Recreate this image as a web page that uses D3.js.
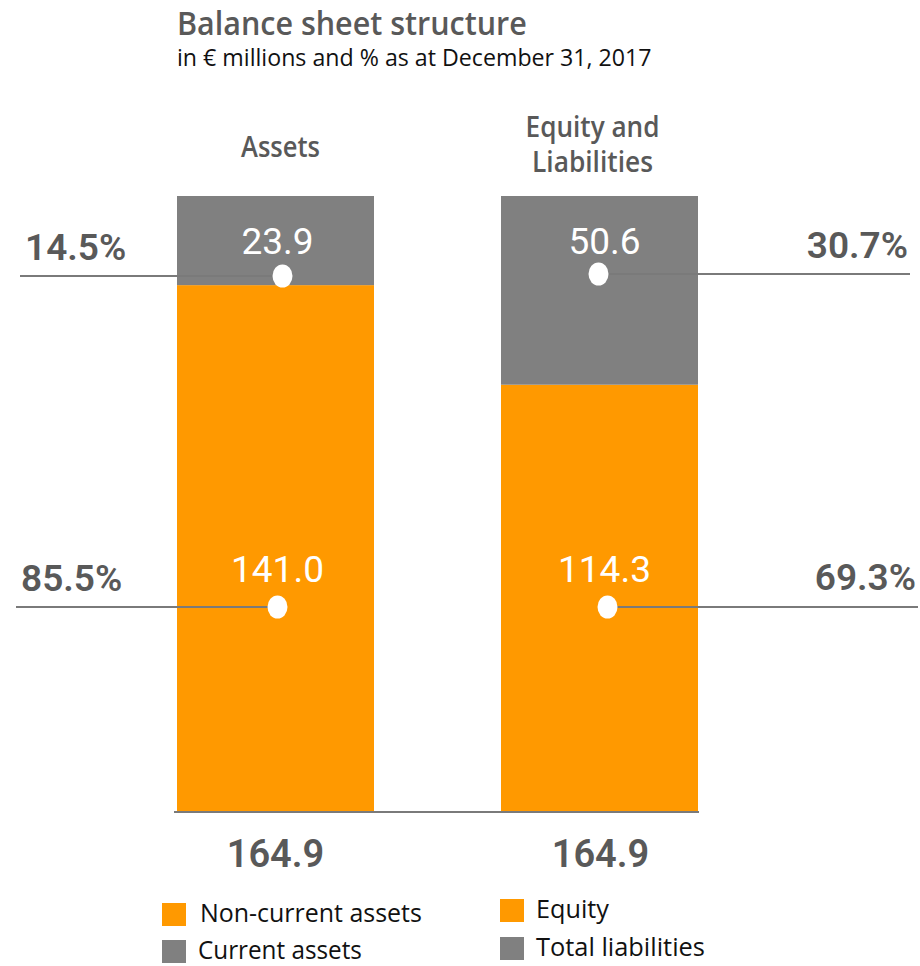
<!DOCTYPE html>
<html>
<head>
<meta charset="utf-8">
<script src="https://cdn.jsdelivr.net/npm/d3@7"></script>
<style>
  html, body { margin: 0; padding: 0; background: #fff; }
  .cond { font-family: "Open Sans", "Noto Sans", sans-serif; }
  .num { font-family: Roboto, "Liberation Sans", sans-serif; }
</style>
</head>
<body>
<svg id="chart" width="920" height="966"></svg>
<script>
// Balance sheet as at December 31, 2017 (in € millions)
const columns = ["Assets", "Equity and Liabilities"];
const columnTitleLines = [["Assets"], ["Equity and", "Liabilities"]];
const lowerValues = [141.0, 114.3];   // Non-current assets / Equity
const upperValues = [23.9, 50.6];     // Current assets / Total liabilities
const lowerShares = ["85.5%", "69.3%"];
const upperShares = ["14.5%", "30.7%"];
const totals = [164.9, 164.9];
const legendLeft = ["Non-current assets", "Current assets"];
const legendRight = ["Equity", "Total liabilities"];

const ORANGE = "#ff9900";
const GREY = "#808080";
const TEXT = "#595959";
const LINE = "#7a7a7a";

const svg = d3.select("#chart");

const x = d3.scaleBand().domain(columns).range([177, 698]).paddingInner(0.392).paddingOuter(0);
const y = d3.scaleLinear().domain([0, d3.max(totals)]).range([811, 196]);

// Condensed text: draw at full height, then squeeze horizontally to the wanted width
function condText(px, py, str, size, width, opts = {}) {
  const t = svg.append("text").attr("class", "cond")
    .attr("x", 0).attr("y", 0)
    .attr("font-size", size)
    .attr("font-weight", opts.weight || "normal")
    .attr("fill", opts.fill || "#111")
    .attr("text-anchor", opts.anchor || "start")
    .text(str);
  const w = t.node().getComputedTextLength();
  const sx = w > 0 ? width / w : 1;
  t.attr("transform", `translate(${px},${py}) scale(${sx.toFixed(4)},1)`);
  return t;
}

// Title
condText(177, 35, "Balance sheet structure", 33, 350, { weight: 600, fill: TEXT });
condText(177, 66, "in € millions and % as at December 31, 2017", 23, 475, { fill: "#111" });

// Column headings
const headingWidths = [[79], [134, 121]];
columns.forEach((c, i) => {
  const lines = columnTitleLines[i];
  const cx = x(c) + x.bandwidth() / 2 + (i === 0 ? 5 : -7);
  const firstY = lines.length === 1 ? 157 : 137;
  lines.forEach((ln, j) => {
    condText(cx, firstY + j * 35, ln, 28, headingWidths[i][j], { weight: 600, fill: TEXT, anchor: "middle" });
  });
});

// Stacked bars
const stackData = columns.map((c, i) => ({ col: c, lower: lowerValues[i], upper: upperValues[i] }));
const stack = d3.stack().keys(["lower", "upper"])(stackData);
const colors = { lower: ORANGE, upper: GREY };

svg.append("g").selectAll("g").data(stack).join("g")
  .attr("fill", d => colors[d.key])
  .selectAll("rect").data(d => d).join("rect")
  .attr("x", d => x(d.data.col))
  .attr("width", x.bandwidth())
  .attr("y", d => y(d[1]))
  .attr("height", d => y(d[0]) - y(d[1]));

// Baseline
svg.append("line").attr("x1", 174).attr("x2", 699).attr("y1", y(0) + 1).attr("y2", y(0) + 1)
  .attr("stroke", LINE).attr("stroke-width", 2);

// Leader lines, dots and labels
const leaderRows = [
  { shares: upperShares, values: upperValues, lineY: [276, 274], valueY: 254, shareY: [260, 258], dotDx: [7, -1] },
  { shares: lowerShares, values: lowerValues, lineY: [607, 607], valueY: 582, shareY: [591, 590], dotDx: [2, 8] }
];
const shareX = [[22, 18], [908, 916]];

leaderRows.forEach((row, r) => {
  columns.forEach((c, i) => {
    const cx = x(c) + x.bandwidth() / 2;
    const dotX = cx + row.dotDx[i];
    const ly = row.lineY[i];
    const farX = i === 0 ? shareX[0][r] - 2 : shareX[1][r] + 2;
    svg.append("line").attr("x1", farX).attr("x2", dotX).attr("y1", ly).attr("y2", ly)
      .attr("stroke", LINE).attr("stroke-width", 2.2);
    svg.append("ellipse").attr("cx", dotX).attr("cy", ly).attr("rx", 10).attr("ry", 11.5)
      .attr("fill", "#fff");
    svg.append("text").attr("class", "num").attr("x", cx + (i === 0 ? 2 : 5)).attr("y", row.valueY)
      .attr("text-anchor", "middle").attr("font-size", 37).attr("fill", "#fff")
      .text(d3.format(".1f")(row.values[i]));
    svg.append("text").attr("class", "num")
      .attr("x", i === 0 ? shareX[0][r] + 3 : shareX[1][r])
      .attr("y", row.shareY[i])
      .attr("text-anchor", i === 0 ? "start" : "end")
      .attr("font-size", 37).attr("font-weight", 600).attr("fill", TEXT)
      .text(row.shares[i]);
  });
});

// Totals
columns.forEach((c, i) => {
  svg.append("text").attr("class", "num").attr("x", x(c) + x.bandwidth() / 2 + (i === 0 ? 0 : 1))
    .attr("y", 867).attr("text-anchor", "middle").attr("font-size", 38).attr("font-weight", 600)
    .attr("fill", TEXT).text(d3.format(".1f")(totals[i]));
});

// Legend
const legendCols = [
  { items: legendLeft, x: 162, tx: 200, y: [903, 940], widths: [222, 164] },
  { items: legendRight, x: 500, tx: 536, y: [899, 937], widths: [73, 169] }
];
const legendColors = [ORANGE, GREY];
legendCols.forEach(col => {
  col.items.forEach((name, j) => {
    svg.append("rect").attr("x", col.x).attr("y", col.y[j]).attr("width", 24).attr("height", 23)
      .attr("fill", legendColors[j]);
    condText(col.tx - (j === 1 && col.x === 162 ? 2 : 0), col.y[j] + 19, name, 26, col.widths[j], { fill: "#111" });
  });
});
</script>
</body>
</html>
